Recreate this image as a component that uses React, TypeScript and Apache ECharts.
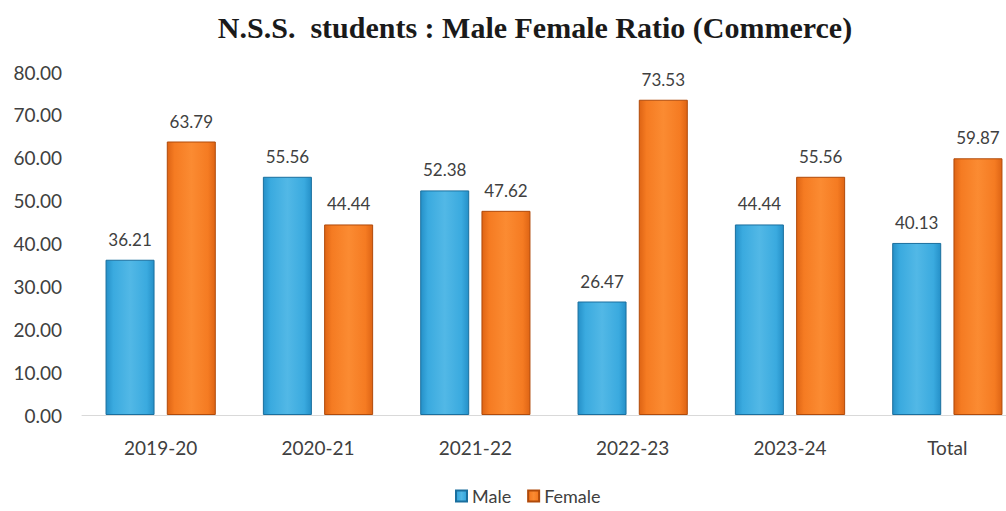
import React, { useEffect, useRef } from "react";
import * as echarts from "echarts";

const categories = ["2019-20", "2020-21", "2021-22", "2022-23", "2023-24", "Total"];
const maleValues = [36.21, 55.56, 52.38, 26.47, 44.44, 40.13];
const femaleValues = [63.79, 44.44, 47.62, 73.53, 55.56, 59.87];
const seriesNames = ["Male", "Female"];
const titleText = "N.S.S.  students : Male Female Ratio (Commerce)";

const blueGrad = new echarts.graphic.LinearGradient(0, 0, 1, 0, [
  { offset: 0, color: "#2590c8" },
  { offset: 0.15, color: "#3aaadf" },
  { offset: 0.5, color: "#52b8e6" },
  { offset: 0.85, color: "#3aaadf" },
  { offset: 1, color: "#2590c8" },
]);
const orangeGrad = new echarts.graphic.LinearGradient(0, 0, 1, 0, [
  { offset: 0, color: "#de6414" },
  { offset: 0.15, color: "#f57b22" },
  { offset: 0.5, color: "#fb8b32" },
  { offset: 0.85, color: "#f57b22" },
  { offset: 1, color: "#de6414" },
]);

export default function App() {
  const ref = useRef<HTMLDivElement>(null);
  useEffect(() => {
    if (!ref.current) return;
    const chart = echarts.init(ref.current, null, { renderer: "svg" });
    const labelStyle = {
      show: true,
      position: "top" as const,
      distance: 12,
      fontFamily: "Lato, 'Open Sans', sans-serif",
      fontSize: 17,
      color: "#404040",
      formatter: (p: any) => Number(p.value).toFixed(2),
    };
    chart.setOption({
      animation: false,
      backgroundColor: "#ffffff",
      title: {
        text: titleText,
        left: 530,
        textAlign: "center",
        top: 7,
        textStyle: {
          fontFamily: "'Liberation Serif', 'Times New Roman', serif",
          fontWeight: "bold",
          fontSize: 30,
          color: "#1a1a1a",
        },
      },
      legend: {
        data: seriesNames,
        bottom: 1,
        left: 450,
        itemWidth: 11,
        itemHeight: 11,
        itemGap: 16,
        icon: "rect",
        textStyle: {
          fontFamily: "Lato, 'Open Sans', sans-serif",
          fontSize: 18,
          color: "#404040",
        },
      },
      grid: {
        left: 82,
        right: 0,
        top: 72,
        height: 343,
      },
      xAxis: {
        type: "category",
        data: categories,
        axisLine: { show: true, lineStyle: { color: "#d9d9d9" } },
        axisTick: { show: false },
        axisLabel: {
          margin: 23,
          fontFamily: "Lato, 'Open Sans', sans-serif",
          fontSize: 19,
          color: "#404040",
        },
      },
      yAxis: {
        type: "value",
        min: 0,
        max: 80,
        interval: 10,
        axisLine: { show: false },
        axisTick: { show: false },
        splitLine: { show: false },
        axisLabel: {
          margin: 20,
          fontFamily: "Lato, 'Open Sans', sans-serif",
          fontSize: 19,
          color: "#404040",
          formatter: (v: number) => v.toFixed(2),
        },
      },
      series: [
        {
          name: seriesNames[0],
          type: "bar",
          data: maleValues,
          barWidth: 49,
          barGap: "25%",
          itemStyle: { color: blueGrad, borderColor: "#1a6f9e", borderWidth: 1 },
          label: labelStyle,
        },
        {
          name: seriesNames[1],
          type: "bar",
          data: femaleValues,
          barWidth: 49,
          barGap: "25%",
          itemStyle: { color: orangeGrad, borderColor: "#b04a0a", borderWidth: 1 },
          label: labelStyle,
        },
      ],
    });
    return () => chart.dispose();
  }, []);
  return (
    <div
      style={{
        width: 1006,
        height: 511,
        position: "absolute",
        left: 0,
        top: 0,
        overflow: "hidden",
      }}
    >
      <div ref={ref} style={{ width: 1026, height: 511 }} />
    </div>
  );
}
